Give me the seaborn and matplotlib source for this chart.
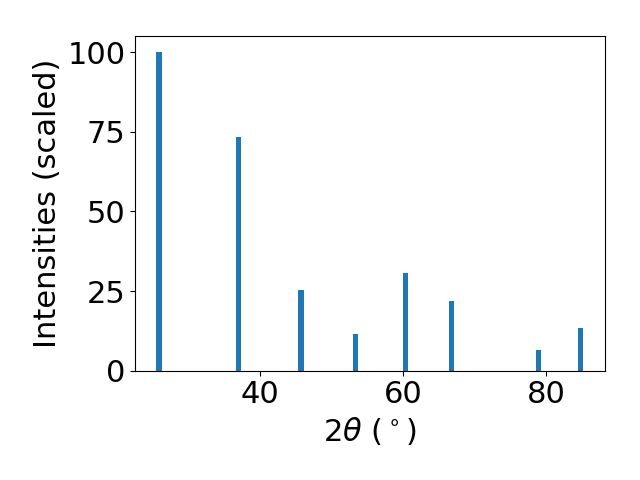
import numpy as np
import pandas as pd
import matplotlib
matplotlib.use("Agg")
import matplotlib.pyplot as plt
import seaborn as sns

# peak positions (2theta, deg) and scaled intensities
two_theta = [25.88, 37.01, 45.73, 53.38, 60.39, 66.83, 78.97, 84.87]
intensity = [100.0, 73.5, 25.4, 11.6, 30.7, 21.9, 6.6, 13.4]

plt.rcParams.update({"font.size": 22})

df = pd.DataFrame({"two_theta": two_theta, "intensity": intensity})

fig, ax = plt.subplots(figsize=(6.4, 4.8), dpi=100)

# bar width ~0.75 deg, seaborn scales width by the smallest spacing in native scale
min_gap = np.min(np.diff(np.sort(two_theta)))
sns.barplot(data=df, x="two_theta", y="intensity", native_scale=True,
            width=0.75 / min_gap, color="#1f77b4", saturation=1, ax=ax)

ax.set_xlabel(r"$2\theta$ ($^\circ$)")
ax.set_ylabel("Intensities (scaled)")
ax.set_yticks([0, 25, 50, 75, 100])

fig.subplots_adjust(left=0.211, right=0.945, top=0.924, bottom=0.228)
plt.savefig("out.png", dpi=100)
